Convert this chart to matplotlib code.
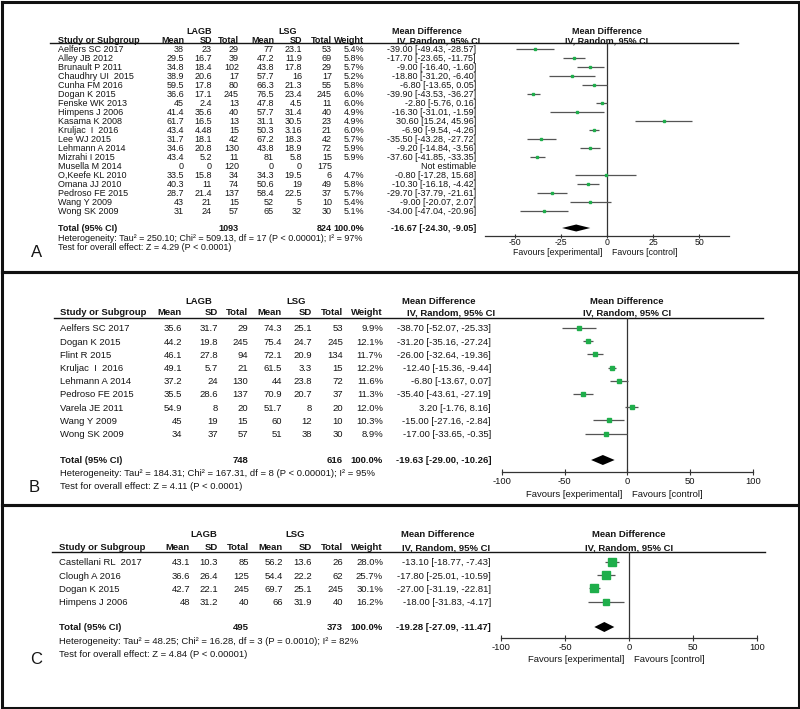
import matplotlib
matplotlib.use('Agg')
import matplotlib.pyplot as plt
from matplotlib import font_manager

# ---- data: panel A ----
a_study = ['Aelfers SC 2017', 'Alley JB 2012', 'Brunault P 2011', 'Chaudhry UI  2015', 'Cunha FM 2016',
           'Dogan K 2015', 'Fenske WK 2013', 'Himpens J 2006', 'Kasama K 2008', 'Kruljac  I  2016',
           'Lee WJ 2015', 'Lehmann A 2014', 'Mizrahi I 2015', 'Musella M 2014', 'O,Keefe KL 2010',
           'Omana JJ 2010', 'Pedroso FE 2015', 'Wang Y 2009', 'Wong SK 2009']
a_lagb_mean = [38, 29.5, 34.8, 38.9, 59.5, 36.6, 45, 41.4, 61.7, 43.4, 31.7, 34.6, 43.4, 0, 33.5, 40.3, 28.7, 43, 31]
a_lagb_sd = [23, 16.7, 18.4, 20.6, 17.8, 17.1, 2.4, 35.6, 16.5, 4.48, 18.1, 20.8, 5.2, 0, 15.8, 11, 21.4, 21, 24]
a_lagb_n = [29, 39, 102, 17, 80, 245, 13, 40, 13, 15, 42, 130, 11, 120, 34, 74, 137, 15, 57]
a_lsg_mean = [77, 47.2, 43.8, 57.7, 66.3, 76.5, 47.8, 57.7, 31.1, 50.3, 67.2, 43.8, 81, 0, 34.3, 50.6, 58.4, 52, 65]
a_lsg_sd = [23.1, 11.9, 17.8, 16, 21.3, 23.4, 4.5, 31.4, 30.5, 3.16, 18.3, 18.9, 5.8, 0, 19.5, 19, 22.5, 5, 32]
a_lsg_n = [53, 69, 29, 17, 55, 245, 11, 40, 23, 21, 42, 72, 15, 175, 6, 49, 37, 10, 30]
a_weight = [5.4, 5.8, 5.7, 5.2, 5.8, 6.0, 6.0, 4.9, 4.9, 6.0, 5.7, 5.9, 5.9, None, 4.7, 5.8, 5.7, 5.4, 5.1]
a_md = [-39.00, -17.70, -9.00, -18.80, -6.80, -39.90, -2.80, -16.30, 30.60, -6.90, -35.50, -9.20, -37.60, None,
        -0.80, -10.30, -29.70, -9.00, -34.00]
a_lo = [-49.43, -23.65, -16.40, -31.20, -13.65, -43.53, -5.76, -31.01, 15.24, -9.54, -43.28, -14.84, -41.85, None,
        -17.28, -16.18, -37.79, -20.07, -47.04]
a_hi = [-28.57, -11.75, -1.60, -6.40, 0.05, -36.27, 0.16, -1.59, 45.96, -4.26, -27.72, -3.56, -33.35, None,
        15.68, -4.42, -21.61, 2.07, -20.96]
a_total = [1093, 824, -16.67, -24.30, -9.05]
a_het = 'Heterogeneity: Tau\u00b2 = 250.10; Chi\u00b2 = 509.13, df = 17 (P < 0.00001); I\u00b2 = 97%'
a_test = 'Test for overall effect: Z = 4.29 (P < 0.0001)'
a_ticks = [-50, -25, 0, 25, 50]

# ---- data: panel B ----
b_study = ['Aelfers SC 2017', 'Dogan K 2015', 'Flint R 2015', 'Kruljac  I  2016', 'Lehmann A 2014',
           'Pedroso FE 2015', 'Varela JE 2011', 'Wang Y 2009', 'Wong SK 2009']
b_lagb_mean = [35.6, 44.2, 46.1, 49.1, 37.2, 35.5, 54.9, 45, 34]
b_lagb_sd = [31.7, 19.8, 27.8, 5.7, 24, 28.6, 8, 19, 37]
b_lagb_n = [29, 245, 94, 21, 130, 137, 20, 15, 57]
b_lsg_mean = [74.3, 75.4, 72.1, 61.5, 44, 70.9, 51.7, 60, 51]
b_lsg_sd = [25.1, 24.7, 20.9, 3.3, 23.8, 20.7, 8, 12, 38]
b_lsg_n = [53, 245, 134, 15, 72, 37, 20, 10, 30]
b_weight = [9.9, 12.1, 11.7, 12.2, 11.6, 11.3, 12.0, 10.3, 8.9]
b_md = [-38.70, -31.20, -26.00, -12.40, -6.80, -35.40, 3.20, -15.00, -17.00]
b_lo = [-52.07, -35.16, -32.64, -15.36, -13.67, -43.61, -1.76, -27.16, -33.65]
b_hi = [-25.33, -27.24, -19.36, -9.44, 0.07, -27.19, 8.16, -2.84, -0.35]
b_total = [748, 616, -19.63, -29.00, -10.26]
b_het = 'Heterogeneity: Tau\u00b2 = 184.31; Chi\u00b2 = 167.31, df = 8 (P < 0.00001); I\u00b2 = 95%'
b_test = 'Test for overall effect: Z = 4.11 (P < 0.0001)'
b_ticks = [-100, -50, 0, 50, 100]

# ---- data: panel C ----
c_study = ['Castellani RL  2017', 'Clough A 2016', 'Dogan K 2015', 'Himpens J 2006']
c_lagb_mean = [43.1, 36.6, 42.7, 48]
c_lagb_sd = [10.3, 26.4, 22.1, 31.2]
c_lagb_n = [85, 125, 245, 40]
c_lsg_mean = [56.2, 54.4, 69.7, 66]
c_lsg_sd = [13.6, 22.2, 25.1, 31.9]
c_lsg_n = [26, 62, 245, 40]
c_weight = [28.0, 25.7, 30.1, 16.2]
c_md = [-13.10, -17.80, -27.00, -18.00]
c_lo = [-18.77, -25.01, -31.19, -31.83]
c_hi = [-7.43, -10.59, -22.81, -4.17]
c_total = [495, 373, -19.28, -27.09, -11.47]
c_het = 'Heterogeneity: Tau\u00b2 = 48.25; Chi\u00b2 = 16.28, df = 3 (P = 0.0010); I\u00b2 = 82%'
c_test = 'Test for overall effect: Z = 4.84 (P < 0.00001)'
c_ticks = [-100, -50, 0, 50, 100]

W, H = 800, 709
GREEN = '#1fae4b'
GREY = '#555555'
INK = '#151515'

installed = {f.name for f in font_manager.fontManager.ttflist}
if 'Liberation Sans Narrow' in installed:
    narrow, nfs = 'Liberation Sans Narrow', 8.1
else:
    narrow, nfs = 'Liberation Sans', 6.8

fig = plt.figure(figsize=(W / 100, H / 100), dpi=100)
bg = fig.add_axes([0, 0, 1, 1])
bg.set_xlim(0, W)
bg.set_ylim(H, 0)
bg.axis('off')


def fmt(v):
    return f'{v:g}'


def ci_text(m, lo, hi):
    return f'{m:.2f} [{lo:.2f}, {hi:.2f}]'


def put(x, y, s, fam, fs, ha='left', bold=False):
    # y is the visual middle of the capitals; place the baseline below it
    bg.text(x, y + 0.36 * fs * 100 / 72, s, ha=ha, va='baseline', family=fam, fontsize=fs,
            color=INK, fontweight='bold' if bold else 'normal')


def draw_panel(d, L):
    fam, fs = L['font'], L['fs']
    cols = L['cols']
    # group headers
    put(L['lagb_c'], L['grp_y'], 'LAGB', fam, fs, 'center', True)
    put(L['lsg_c'], L['grp_y'], 'LSG', fam, fs, 'center', True)
    put(L['md_c'], L['grp_y'], 'Mean Difference', fam, fs, 'center', True)
    put(L['fc'], L['grp_y'], 'Mean Difference', fam, fs, 'center', True)
    # column headers
    put(L['name_x'], L['hdr_y'], 'Study or Subgroup', fam, fs, 'left', True)
    for x, h in zip(cols[:7], ['Mean', 'SD', 'Total', 'Mean', 'SD', 'Total', 'Weight']):
        put(x, L['hdr_y'], h, fam, fs, 'right', True)
    put(L['md_r'], L['hdr_y'], 'IV, Random, 95% CI', fam, fs, 'right', True)
    put(L['fc'], L['hdr_y'], 'IV, Random, 95% CI', fam, fs, 'center', True)
    bg.plot([L['line_x'][0], L['line_x'][1]], [L['line_y'], L['line_y']], color=INK, lw=1.0)

    # forest axes: x in effect units, y in pixel rows
    x0, x1 = L['fx']
    ax = fig.add_axes([x0 / W, 1 - L['axis_y'] / H, (x1 - x0) / W, (L['axis_y'] - L['line_y']) / H])
    ax.set_xlim(L['xlim'])
    ax.set_ylim(L['axis_y'], L['line_y'])
    ax.patch.set_visible(False)
    for s in ['left', 'right', 'top']:
        ax.spines[s].set_visible(False)
    ax.spines['bottom'].set_color('#333333')
    ax.spines['bottom'].set_linewidth(0.9)
    ax.set_yticks([])
    ax.set_xticks(L['ticks'])
    ax.set_xticklabels([str(t) for t in L['ticks']], family=fam, fontsize=L['tfs'], color=INK)
    ax.tick_params(axis='x', direction='inout', length=L['tlen'], width=0.8, pad=L['tpad'], color='#333333')
    ax.axvline(0, color='#333333', lw=0.9)

    for i, name in enumerate(d['study']):
        y = L['row0'] + i * L['step']
        put(L['name_x'], y, name, fam, fs)
        vals = [d['m1'][i], d['s1'][i], d['n1'][i], d['m2'][i], d['s2'][i], d['n2'][i]]
        for x, v in zip(cols[:6], vals):
            put(x, y, fmt(v), fam, fs, 'right')
        if d['md'][i] is None:
            put(cols[7], y, 'Not estimable', fam, fs, 'right')
            continue
        put(cols[6], y, f"{d['w'][i]:.1f}%", fam, fs, 'right')
        put(cols[7], y, ci_text(d['md'][i], d['lo'][i], d['hi'][i]), fam, fs, 'right')
        ax.plot([d['lo'][i], d['hi'][i]], [y, y], color=GREY, lw=0.9, solid_capstyle='butt')
        ax.plot(d['md'][i], y, 's', color=GREEN, mec=GREEN, ms=L['msk'] * d['w'][i] ** 0.5)

    n1, n2, tm, tlo, thi = d['total']
    ty = L['total_y']
    put(L['name_x'], ty, 'Total (95% CI)', fam, fs, 'left', True)
    put(cols[2], ty, str(n1), fam, fs, 'right', True)
    put(cols[5], ty, str(n2), fam, fs, 'right', True)
    put(cols[6], ty, '100.0%', fam, fs, 'right', True)
    put(cols[7], ty, ci_text(tm, tlo, thi), fam, fs, 'right', True)
    h = L['dia_h']
    ax.fill([tlo, tm, thi, tm], [ty, ty - h, ty, ty + h], color='black', lw=0)
    put(L['name_x'], L['het_y'], d['het'], fam, fs)
    put(L['name_x'], L['test_y'], d['test'], fam, fs)

    # favours labels either side of the zero line
    zx = x0 + (0 - L['xlim'][0]) / (L['xlim'][1] - L['xlim'][0]) * (x1 - x0)
    put(zx - 5, L['fav_y'], 'Favours [experimental]', fam, L['ffs'], 'right')
    put(zx + 5, L['fav_y'], 'Favours [control]', fam, L['ffs'], 'left')
    put(L['lab'][0], L['lab'][1], L['label'], 'Liberation Sans', 12, 'center')


panel_a = dict(study=a_study, m1=a_lagb_mean, s1=a_lagb_sd, n1=a_lagb_n, m2=a_lsg_mean, s2=a_lsg_sd,
               n2=a_lsg_n, w=a_weight, md=a_md, lo=a_lo, hi=a_hi, total=a_total, het=a_het, test=a_test)
panel_b = dict(study=b_study, m1=b_lagb_mean, s1=b_lagb_sd, n1=b_lagb_n, m2=b_lsg_mean, s2=b_lsg_sd,
               n2=b_lsg_n, w=b_weight, md=b_md, lo=b_lo, hi=b_hi, total=b_total, het=b_het, test=b_test)
panel_c = dict(study=c_study, m1=c_lagb_mean, s1=c_lagb_sd, n1=c_lagb_n, m2=c_lsg_mean, s2=c_lsg_sd,
               n2=c_lsg_n, w=c_weight, md=c_md, lo=c_lo, hi=c_hi, total=c_total, het=c_het, test=c_test)

lay_a = dict(font='Liberation Sans', fs=6.5, tfs=6.3, ffs=6.3, tpad=0.0, tlen=2.5, grp_y=31, hdr_y=40, line_y=43,
             line_x=(50, 738), row0=49, step=9.0, total_y=228, het_y=237.5, test_y=247, name_x=58,
             cols=[184, 212, 239, 274, 302, 332, 364, 476], lagb_c=199, lsg_c=288, md_c=427, md_r=480, fc=607,
             fx=(485, 729), xlim=(-66, 66), ticks=a_ticks, axis_y=236, fav_y=251.5, dia_h=3.5, msk=0.7,
             lab=(37, 251), label='A')
lay_b = dict(font=narrow, fs=nfs, tfs=nfs, ffs=nfs, tpad=1.5, tlen=4, grp_y=301, hdr_y=312, line_y=318,
             line_x=(54, 763), row0=328, step=13.2, total_y=460, het_y=473, test_y=486, name_x=60,
             cols=[182, 218, 248, 282, 312, 343, 383, 491], lagb_c=199, lsg_c=296, md_c=439, md_r=495, fc=627,
             fx=(502, 753), xlim=(-100, 100), ticks=b_ticks, axis_y=472, fav_y=493.5, dia_h=5, msk=0.9,
             lab=(34, 486), label='B')
lay_c = dict(font=narrow, fs=nfs, tfs=nfs, ffs=nfs, tpad=1.5, tlen=4, grp_y=534, hdr_y=547, line_y=552,
             line_x=(52, 765), row0=562, step=13.2, total_y=627, het_y=641, test_y=654, name_x=59,
             cols=[190, 218, 249, 283, 312, 343, 383, 491], lagb_c=204, lsg_c=295, md_c=438, md_r=490, fc=629,
             fx=(501, 757), xlim=(-100, 100), ticks=c_ticks, axis_y=638, fav_y=659, dia_h=5, msk=1.0,
             lab=(36, 658), label='C')

draw_panel(panel_a, lay_a)
draw_panel(panel_b, lay_b)
draw_panel(panel_c, lay_c)

# panel frames
for y0, y1 in [(1.5, 272), (272, 505), (505, 707.5)]:
    bg.plot([1.5, 798.5, 798.5, 1.5, 1.5], [y0, y0, y1, y1, y0], color='#111111', lw=2.2,
            solid_joinstyle='miter')

fig.savefig('out.png', dpi=100)
